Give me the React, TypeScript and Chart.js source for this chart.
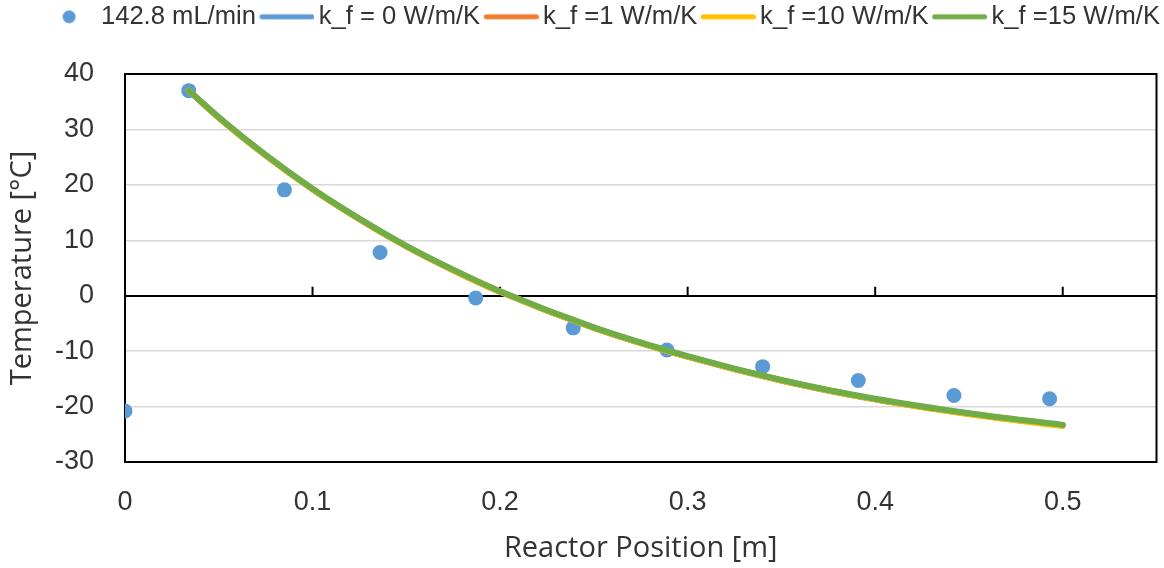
import React, { useEffect, useRef } from 'react';
import { Chart, registerables } from 'chart.js';

Chart.register(...registerables);

// Measured data (142.8 mL/min)
const measuredX = [0, 0.034, 0.085, 0.136, 0.187, 0.239, 0.289, 0.34, 0.391, 0.442, 0.493];
const measuredT = [-20.8, 37.0, 19.1, 7.8, -0.4, -5.8, -9.8, -12.8, -15.3, -18.0, -18.6];

// Model curves
const curveX = [0.034, 0.05, 0.075, 0.1, 0.125, 0.15, 0.175, 0.2, 0.25, 0.3, 0.35, 0.4, 0.45, 0.5];
const kf0T = [37.0, 32.1, 25.3, 19.2, 13.8, 8.9, 4.6, 0.7, -5.8, -11.0, -15.3, -18.7, -21.3, -23.4];
const kf1T = [37.0, 32.1, 25.3, 19.2, 13.8, 8.9, 4.6, 0.7, -5.8, -11.0, -15.3, -18.7, -21.3, -23.4];
const kf10T = [37.0, 32.1, 25.3, 19.2, 13.8, 8.9, 4.6, 0.7, -5.8, -11.0, -15.3, -18.7, -21.4, -23.5];
const kf15T = [37.0, 32.2, 25.4, 19.3, 13.9, 9.0, 4.7, 0.8, -5.7, -10.9, -15.2, -18.6, -21.2, -23.3];

const seriesLabels = ['142.8 mL/min', 'k_f = 0 W/m/K', 'k_f =1 W/m/K', 'k_f =10 W/m/K', 'k_f =15 W/m/K'];
const seriesColors = ['#5B9BD5', '#5B9BD5', '#ED7D31', '#FFC000', '#70AD47'];

const xTickValues = [0, 0.1, 0.2, 0.3, 0.4, 0.5];
const yTickMin = -30;
const yTickMax = 40;

const FONT = "'Liberation Sans', Arial, sans-serif";
const TITLE_FONT = "'Open Sans', 'Liberation Sans', sans-serif";
const TEXT = '#333333';

const toPoints = (xs: number[], ys: number[]) => xs.map((x, i) => ({ x, y: ys[i] }));

export default function App() {
  const ref = useRef<HTMLCanvasElement>(null);

  useEffect(() => {
    const canvas = ref.current;
    if (!canvas) return;

    const makeSlot = (kind: 'dot' | 'line', color: string) => {
      const c = document.createElement('canvas');
      c.width = 63;
      c.height = 16;
      const g = c.getContext('2d')!;
      if (kind === 'dot') {
        g.fillStyle = color;
        g.beginPath();
        g.arc(8 + 27.5, 8, 6.5, 0, Math.PI * 2);
        g.fill();
      } else {
        g.strokeStyle = color;
        g.lineWidth = 5;
        g.lineCap = 'round';
        g.beginPath();
        g.moveTo(8 + 2.5, 8);
        g.lineTo(63 - 2.5, 8);
        g.stroke();
      }
      return c;
    };
    const slots = seriesColors.map((col, i) => makeSlot(i === 0 ? 'dot' : 'line', col));

    const frame = {
      id: 'frame',
      beforeDatasetsDraw(chart: any) {
        const { ctx, chartArea: a, scales } = chart;
        const xs = scales.x;
        const ys = scales.y;
        const y0 = ys.getPixelForValue(0);
        ctx.save();
        ctx.strokeStyle = '#000';
        ctx.lineWidth = 2;
        ctx.beginPath();
        for (const t of xs.ticks) {
          const px = xs.getPixelForValue(t.value);
          ctx.moveTo(px, y0);
          ctx.lineTo(px, y0 - 9);
        }
        ctx.stroke();
        ctx.strokeRect(a.left, a.top, a.right - a.left, a.bottom - a.top);
        ctx.restore();
      },
    };

    const legendGap = {
      id: 'legendGap',
      afterInit(chart: any) {
        const lg = chart.legend;
        if (!lg || lg.__patched) return;
        const fit = lg.fit;
        lg.fit = function () {
          fit.call(this);
          this.height += 34.4;
        };
        lg.__patched = true;
      },
    };

    const lineDs = (i: number, ys: number[], order: number) => ({
      label: seriesLabels[i],
      data: toPoints(curveX, ys),
      showLine: true,
      borderColor: seriesColors[i],
      backgroundColor: seriesColors[i],
      borderWidth: 6,
      borderCapStyle: 'round',
      borderJoinStyle: 'round',
      pointRadius: 0,
      pointHoverRadius: 0,
      cubicInterpolationMode: 'monotone',
      fill: false,
      order,
    });

    const chart = new Chart(canvas, {
      type: 'scatter',
      data: {
        datasets: [
          {
            label: seriesLabels[0],
            data: toPoints(measuredX, measuredT),
            showLine: false,
            backgroundColor: seriesColors[0],
            borderColor: seriesColors[0],
            borderWidth: 0,
            pointRadius: 7.5,
            pointHoverRadius: 7.5,
            order: 5,
          },
          lineDs(1, kf0T, 4),
          lineDs(2, kf1T, 3),
          lineDs(3, kf10T, 2),
          lineDs(4, kf15T, 1),
        ] as any,
      },
      options: {
        responsive: false,
        animation: false,
        layout: { padding: 0 },
        plugins: {
          tooltip: { enabled: false },
          title: { display: false },
          legend: {
            display: true,
            position: 'top',
            align: 'end',
            labels: {
              usePointStyle: true,
              pointStyleWidth: 46,
              boxWidth: 46,
              padding: 4,
              color: TEXT,
              font: { family: FONT, size: 25.6 },
              generateLabels: (ch: any) => {
                const items = (Chart.defaults.plugins.legend.labels as any).generateLabels(ch);
                items.sort((a: any, b: any) => a.datasetIndex - b.datasetIndex);
                return items.map((it: any) => ({ ...it, pointStyle: slots[it.datasetIndex] }));
              },
            },
          },
        },
        scales: {
          x: {
            type: 'linear',
            min: 0,
            max: 0.55,
            afterBuildTicks: (s: any) => {
              s.ticks = xTickValues.map((v) => ({ value: v }));
            },
            afterFit: (s: any) => {
              s.height = 106;
            },
            grid: { display: false, drawTicks: false },
            border: { display: false },
            ticks: {
              stepSize: 0.1,
              padding: 24,
              color: TEXT,
              font: { family: FONT, size: 27 },
              callback: (v: any) => (v === 0 ? '0' : String(Math.round(Number(v) * 10) / 10)),
            },
            title: {
              display: true,
              text: 'Reactor Position [m]',
              color: TEXT,
              font: { family: TITLE_FONT, size: 29 },
              padding: { top: 0, bottom: 2 },
            },
          },
          y: {
            type: 'linear',
            min: yTickMin,
            max: yTickMax,
            afterFit: (s: any) => {
              s.width = 125;
            },
            grid: {
              drawTicks: false,
              color: (c: any) => (c.tick && c.tick.value === 0 ? '#000000' : '#d9d9d9'),
              lineWidth: (c: any) => (c.tick && c.tick.value === 0 ? 2 : 1.5),
            },
            border: { display: false },
            ticks: {
              stepSize: 10,
              padding: 31,
              color: TEXT,
              font: { family: FONT, size: 27 },
            },
            title: {
              display: true,
              text: 'Temperature [°C]',
              color: TEXT,
              font: { family: TITLE_FONT, size: 29 },
              padding: { top: 5, bottom: 0 },
            },
          },
          y2: {
            type: 'linear',
            position: 'right',
            display: true,
            min: yTickMin,
            max: yTickMax,
            grid: { display: false, drawTicks: false },
            border: { display: false },
            ticks: { display: false },
            afterFit: (s: any) => {
              s.width = 4;
            },
          },
        },
      } as any,
      plugins: [frame, legendGap] as any,
    });

    return () => chart.destroy();
  }, []);

  return (
    <div style={{ position: 'fixed', left: 0, top: 0, width: 1164, height: 568, background: '#fff' }}>
      <canvas ref={ref} width={1164} height={568} style={{ display: 'block' }} />
    </div>
  );
}
